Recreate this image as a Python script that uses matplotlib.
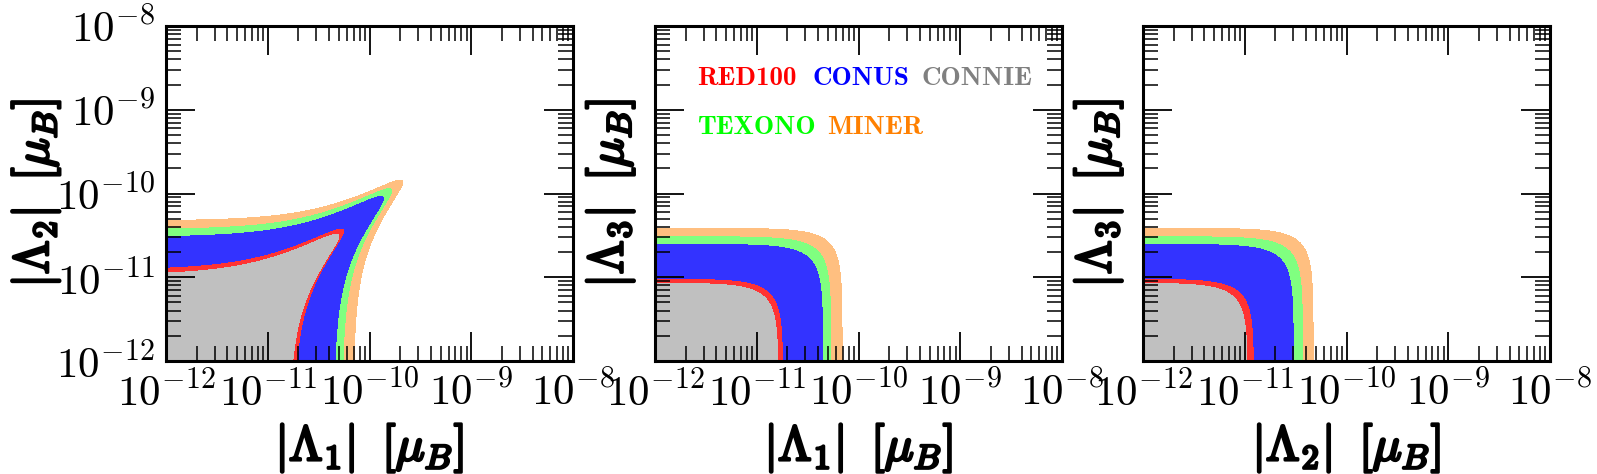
import numpy as np
import matplotlib
matplotlib.use("Agg")
import matplotlib.pyplot as plt
import matplotlib.patheffects as pe
from matplotlib.ticker import LogLocator, NullFormatter

plt.rcParams['mathtext.fontset'] = 'cm'
plt.rcParams['font.family'] = 'serif'

# experiments, drawn from the largest region to the smallest
experiments = ["MINER", "TEXONO", "CONUS", "RED100", "CONNIE"]
fill_colors = ["#ffbf80", "#80ff80", "#3333ff", "#ff3333", "#c0c0c0"]
text_colors = {"RED100": "#ff0000", "CONUS": "#0000ff", "CONNIE": "#808080",
               "TEXONO": "#00ff00", "MINER": "#ff8000"}

# bound on each |Lambda_i| alone (mu_B)
lam1_bound = [6.9e-11, 5.35e-11, 4.45e-11, 1.80e-11, 1.62e-11]
lam2_bound = [4.7e-11, 3.7e-11, 3.0e-11, 1.22e-11, 1.06e-11]
lam3_bound = [3.84e-11, 3.05e-11, 2.47e-11, 9.5e-12, 8.5e-12]
bounds = {1: lam1_bound, 2: lam2_bound, 3: lam3_bound}

# panels: (x index, y index, correlation between the two couplings)
panels = [(1, 2, 0.946), (1, 3, 0.0), (2, 3, 0.0)]

decades = [1e-12, 1e-11, 1e-10, 1e-9, 1e-8]
tick_labels = [r"$10^{-12}$", r"$10^{-11}$", r"$10^{-10}$", r"$10^{-9}$", r"$10^{-8}$"]

fig = plt.figure(figsize=(15.97, 4.74), dpi=100)
lefts = [166 / 1597, 655 / 1597, 1143 / 1597]
bold = [pe.withStroke(linewidth=2.0, foreground='k')]

grid = np.logspace(-12, -8, 700)
GX, GY = np.meshgrid(grid, grid)

for p, (ix, iy, c) in enumerate(panels):
    ax = fig.add_axes([lefts[p], 1 - 361 / 474, 407 / 1597, 335 / 474])
    for k, name in enumerate(experiments):
        u = GX / bounds[ix][k]
        v = GY / bounds[iy][k]
        q = u ** 2 + v ** 2 - 2 * c * u * v
        ax.contourf(GX, GY, q, levels=[-1, 1], colors=[fill_colors[k]])
    ax.set_xscale('log')
    ax.set_yscale('log')
    ax.set_xlim(1e-12, 1e-8)
    ax.set_ylim(1e-12, 1e-8)
    ax.set_xticks(decades)
    ax.set_xticklabels(tick_labels)
    ax.set_yticks(decades)
    if p == 0:
        ax.set_yticklabels(tick_labels)
    else:
        ax.set_yticklabels([])
    for a in (ax.xaxis, ax.yaxis):
        a.set_minor_locator(LogLocator(base=10, subs=np.arange(2, 10), numticks=100))
        a.set_minor_formatter(NullFormatter())
    ax.tick_params(which='both', direction='in', top=True, right=True,
                   labelsize=31, color='k')
    ax.tick_params(which='major', length=21, width=1.3, pad=8)
    ax.tick_params(which='minor', length=11, width=1.1)
    for s in ax.spines.values():
        s.set_linewidth(2.2)
    xl = ax.set_xlabel(r"$|\Lambda_%d|\;\;[\mu_B]$" % ix, fontsize=35, labelpad=5)
    yl = ax.set_ylabel(r"$|\Lambda_%d|\;\;[\mu_B]$" % iy, fontsize=35)
    ax.yaxis.set_label_coords(-0.255 if p == 0 else -0.045, 0.5)
    xl.set_path_effects(bold)
    yl.set_path_effects(bold)

    if p == 1:
        row1 = [("RED100", 0.103), ("CONUS", 0.387), ("CONNIE", 0.654)]
        row2 = [("TEXONO", 0.103), ("MINER", 0.424)]
        for name, xpos in row1:
            ax.text(xpos, 0.824, name, color=text_colors[name], family='cmb10',
                    fontsize=19.5, transform=ax.transAxes, va='baseline')
        for name, xpos in row2:
            ax.text(xpos, 0.678, name, color=text_colors[name], family='cmb10',
                    fontsize=19.5, transform=ax.transAxes, va='baseline')

fig.savefig("out.png", dpi=100)
